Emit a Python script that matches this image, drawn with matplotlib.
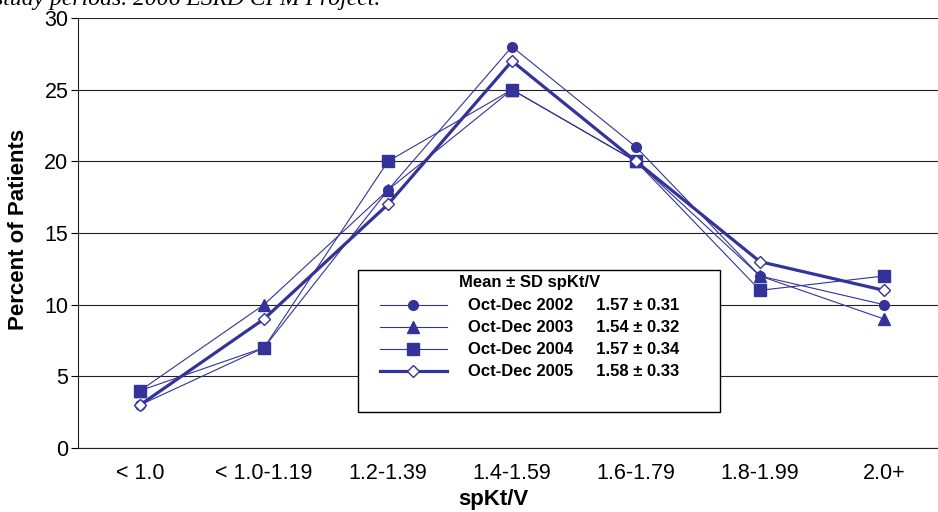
import matplotlib
matplotlib.use('Agg')
import matplotlib.pyplot as plt
from matplotlib.patches import Rectangle

plt.rcParams['font.family'] = ['Liberation Sans', 'DejaVu Sans']

# spKt/V distribution, percent of patients per study period
cats = ['< 1.0', '< 1.0-1.19', '1.2-1.39', '1.4-1.59', '1.6-1.79', '1.8-1.99', '2.0+']
p2002 = [3, 7, 18, 28, 21, 12, 10]
p2003 = [4, 10, 18, 25, 20, 12, 9]
p2004 = [4, 7, 20, 25, 20, 11, 12]
p2005 = [3, 9, 17, 27, 20, 13, 11]
periods = ['Oct-Dec 2002', 'Oct-Dec 2003', 'Oct-Dec 2004', 'Oct-Dec 2005']
stats = ['1.57 ± 0.31', '1.54 ± 0.32', '1.57 ± 0.34', '1.58 ± 0.33']

blue = '#333399'
W, H = 938, 512

fig = plt.figure(figsize=(W / 100, H / 100), dpi=100)
ax = fig.add_axes([78 / W, 64 / H, 868 / W, 430 / H])

x = list(range(len(cats)))
styles = [
    dict(marker='o', ms=7, mfc=blue, lw=0.8),
    dict(marker='^', ms=8, mfc=blue, lw=0.8),
    dict(marker='s', ms=8, mfc=blue, lw=0.8),
    dict(marker='D', ms=6, mfc='white', lw=2.3),
]
handles = []
for vals, st in zip([p2002, p2003, p2004, p2005], styles):
    ln, = ax.plot(x, vals, color=blue, mec=blue, mew=1, zorder=3, **st)
    handles.append(ln)

ax.set_xlim(-0.5, 6.5)
ax.set_ylim(0, 30)
ax.set_yticks(range(0, 31, 5))
ax.set_xticks(x)
ax.set_xticklabels(cats)
ax.tick_params(axis='x', length=0, pad=11, labelsize=15.5)
ax.tick_params(axis='y', length=5, width=0.8, pad=2, labelsize=15.5, direction='out')
ax.grid(axis='y', color='#222222', lw=0.8)
ax.set_axisbelow(True)
for s in ['top', 'right']:
    ax.spines[s].set_visible(False)
for s in ['left', 'bottom']:
    ax.spines[s].set_color('#222222')
    ax.spines[s].set_linewidth(0.8)

fig.text(19 / W, 1 - 229 / H, 'Percent of Patients', rotation=90,
         ha='center', va='center', fontsize=16, fontweight='bold')
fig.text(493 / W, 1 - 499 / H, 'spKt/V', ha='center', va='center',
         fontsize=16, fontweight='bold')

# caption line running off the top of the page
fig.text(-0.006, 1 - 5 / H, 'study periods. 2006 ESRD CPM Project.',
         family='Liberation Serif', style='italic', fontsize=17,
         ha='left', va='baseline')

# legend box
box = Rectangle(((358 - 78) / 868, (448 - 412) / 430), (720 - 358) / 868,
                (412 - 270) / 430, transform=ax.transAxes, facecolor='white',
                edgecolor='black', lw=1, zorder=4)
ax.add_patch(box)

labels = ['{}     {}'.format(p, s) for p, s in zip(periods, stats)]
leg = ax.legend(handles, labels, title='Mean ± SD spKt/V', loc='upper left',
                bbox_to_anchor=(380 / W, 1 - 275 / H),
                bbox_transform=fig.transFigure, frameon=False,
                prop=dict(weight='bold', size=12),
                title_fontproperties=dict(weight='bold', size=12),
                handlelength=4.0, handletextpad=1.25, labelspacing=0.42,
                borderpad=0, borderaxespad=0, numpoints=1)
leg._legend_box.sep = 6
leg.set_zorder(5)

fig.savefig('out.png', dpi=100)
